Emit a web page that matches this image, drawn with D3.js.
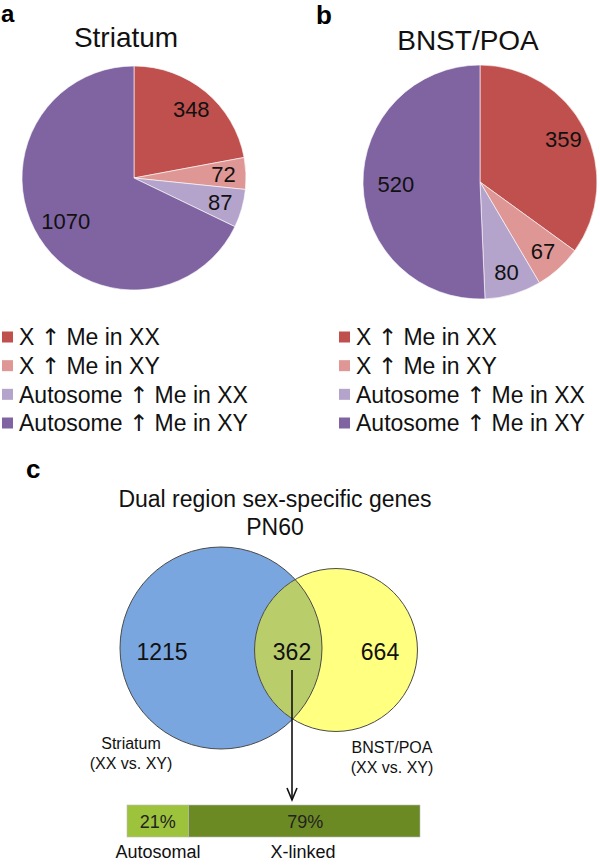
<!DOCTYPE html>
<html>
<head>
<meta charset="utf-8">
<script src="https://cdn.jsdelivr.net/npm/d3@7"></script>
<style>
  html, body { margin: 0; padding: 0; background: #fff; }
  svg { display: block; font-family: "Liberation Sans", Arial, sans-serif; }
</style>
</head>
<body>
<svg id="chart" width="600" height="865"></svg>
<script>
// ---- Data ----
const categories = ["X \u2191 Me in XX", "X \u2191 Me in XY", "Autosome \u2191 Me in XX", "Autosome \u2191 Me in XY"];
const colors = ["#c0504d", "#de9795", "#b4a3ca", "#8064a2"];
const striatumValues = [348, 72, 87, 1070];
const bnstValues = [359, 67, 80, 520];
const pieTitles = ["Striatum", "BNST/POA"];
const vennLabels = ["Striatum", "BNST/POA"];
const vennOnly = [1215, 664];
const vennShared = 362;
const barCategories = ["Autosomal", "X-linked"];
const barPercents = [21, 79];
const barColors = ["#9dc23c", "#6c8a24"];

const svg = d3.select("#chart");

// Panel letters
svg.append("text").attr("x", 1).attr("y", 22).text("a")
  .attr("font-size", 24).attr("font-weight", "bold");
svg.append("text").attr("x", 316).attr("y", 24).text("b")
  .attr("font-size", 26).attr("font-weight", "bold");
svg.append("text").attr("x", 26).attr("y", 478).text("c")
  .attr("font-size", 26).attr("font-weight", "bold");

// helper: write a label, rendering the arrow glyph with DejaVu Sans
function writeWithArrow(sel, str) {
  const parts = str.split("\u2191");
  parts.forEach((p, i) => {
    sel.append("tspan").text(p);
    if (i < parts.length - 1) {
      sel.append("tspan").attr("font-family", "DejaVu Sans").attr("fill", "#111").text("\u2191");
    }
  });
}

// ---- Pies ----
function drawPie(values, cx, cy, r, title, titleX, titleY, legendX) {
  const g = svg.append("g").attr("transform", `translate(${cx},${cy})`);
  const pie = d3.pie().sort(null).value(d => d);
  const arcs = pie(values);
  const arc = d3.arc().innerRadius(0).outerRadius(r);
  g.selectAll("path").data(arcs).join("path")
    .attr("d", arc)
    .attr("fill", (d, i) => colors[i])
    .attr("stroke", "#fff").attr("stroke-width", 0.6);
  const maxV = d3.max(values);
  g.selectAll("text.lbl").data(arcs).join("text")
    .attr("class", "lbl")
    .attr("transform", d => {
      const rr = (d.data === maxV ? 0.72 : 0.8) * r;
      const c = d3.arc().innerRadius(rr).outerRadius(rr).centroid(d);
      return `translate(${c[0]},${c[1]})`;
    })
    .attr("text-anchor", "middle").attr("dy", "0.36em")
    .attr("font-size", 22).attr("fill", "#111")
    .text(d => d.data);
  svg.append("text").attr("x", titleX).attr("y", titleY)
    .attr("text-anchor", "middle").attr("font-size", 28).attr("fill", "#111")
    .text(title);

  // legend
  const ly = d3.scalePoint().domain(categories).range([337, 423]);
  const lg = svg.append("g");
  categories.forEach((c, i) => {
    lg.append("rect").attr("x", legendX).attr("y", ly(c) - 5.5)
      .attr("width", 11).attr("height", 11).attr("fill", colors[i]);
    const t = lg.append("text").attr("x", legendX + 17).attr("y", ly(c))
      .attr("dy", "0.36em").attr("font-size", 23).attr("fill", "#111");
    writeWithArrow(t, c);
  });
}
drawPie(striatumValues, 134, 178, 112, pieTitles[0], 126, 47, 2);
drawPie(bnstValues, 480, 182, 117, pieTitles[1], 468, 50, 339);

// ---- Venn ----
svg.append("text").attr("x", 275).attr("y", 507).attr("text-anchor", "middle")
  .attr("font-size", 23).attr("fill", "#111").text("Dual region sex-specific genes");
svg.append("text").attr("x", 275).attr("y", 535).attr("text-anchor", "middle")
  .attr("font-size", 23).attr("fill", "#111").text("PN60");

const totals = [vennOnly[0] + vennShared, vennOnly[1] + vennShared];
const rScale = d3.scaleSqrt().domain([0, totals[0]]).range([0, 101]);
const circles = [
  { cx: 221, cy: 648, r: rScale(totals[0]), fill: "#79a6df" },
  { cx: 336, cy: 650, r: rScale(totals[1]), fill: "#ffff80" }
];
const defs = svg.append("defs");
defs.append("clipPath").attr("id", "clipA").append("circle")
  .attr("cx", circles[0].cx).attr("cy", circles[0].cy).attr("r", circles[0].r);
const vg = svg.append("g");
vg.selectAll("circle.fill").data(circles).join("circle")
  .attr("class", "fill")
  .attr("cx", d => d.cx).attr("cy", d => d.cy).attr("r", d => d.r)
  .attr("fill", d => d.fill);
vg.append("circle").attr("cx", circles[1].cx).attr("cy", circles[1].cy).attr("r", circles[1].r)
  .attr("fill", "#bacd6b").attr("clip-path", "url(#clipA)");
vg.selectAll("circle.stroke").data(circles).join("circle")
  .attr("class", "stroke")
  .attr("cx", d => d.cx).attr("cy", d => d.cy).attr("r", d => d.r)
  .attr("fill", "none").attr("stroke", "#4a4a4a").attr("stroke-width", 1);

const numY = 652;
svg.append("text").attr("x", 162).attr("y", numY).attr("dy", "0.36em")
  .attr("text-anchor", "middle").attr("font-size", 23).attr("fill", "#111").text(vennOnly[0]);
svg.append("text").attr("x", 292).attr("y", numY).attr("dy", "0.36em")
  .attr("text-anchor", "middle").attr("font-size", 23).attr("fill", "#111").text(vennShared);
svg.append("text").attr("x", 380).attr("y", numY).attr("dy", "0.36em")
  .attr("text-anchor", "middle").attr("font-size", 23).attr("fill", "#111").text(vennOnly[1]);

// Venn set labels
[[vennLabels[0], 131, 743], [vennLabels[1], 392, 747]].forEach(([t, x, y]) => {
  const tx = svg.append("text").attr("x", x).attr("y", y).attr("text-anchor", "middle")
    .attr("font-size", 16).attr("fill", "#111");
  tx.append("tspan").attr("x", x).attr("dy", "0.36em").text(t);
  tx.append("tspan").attr("x", x).attr("dy", "1.25em").text("(XX vs. XY)");
});

// Arrow
svg.append("line").attr("x1", 292).attr("y1", 670).attr("x2", 292).attr("y2", 800)
  .attr("stroke", "#111").attr("stroke-width", 1.6);
svg.append("path").attr("d", "M287,788 L292,800 L297,788")
  .attr("fill", "none").attr("stroke", "#111").attr("stroke-width", 1.6);

// ---- Stacked bar ----
const x = d3.scaleLinear().domain([0, 100]).range([127, 420]);
const stack = [];
let acc = 0;
barPercents.forEach((p, i) => { stack.push({ start: acc, end: acc + p, p, cat: barCategories[i], color: barColors[i] }); acc += p; });
svg.selectAll("rect.bar").data(stack).join("rect")
  .attr("class", "bar")
  .attr("x", d => x(d.start)).attr("y", 805)
  .attr("width", d => x(d.end) - x(d.start)).attr("height", 32)
  .attr("fill", d => d.color).attr("stroke", "#bdbdbd").attr("stroke-width", 0.6);
svg.selectAll("text.pct").data(stack).join("text")
  .attr("class", "pct")
  .attr("x", d => (x(d.start) + x(d.end)) / 2 + (d.start === 0 ? 0 : 1)).attr("y", 822)
  .attr("dy", "0.36em").attr("text-anchor", "middle")
  .attr("font-size", 18).attr("fill", "#222").text(d => d.p + "%");
svg.selectAll("text.cat").data(stack).join("text")
  .attr("class", "cat")
  .attr("x", d => d.start === 0 ? 158 : 303).attr("y", 858)
  .attr("text-anchor", "middle").attr("font-size", 18).attr("fill", "#111").text(d => d.cat);
</script>
</body>
</html>
